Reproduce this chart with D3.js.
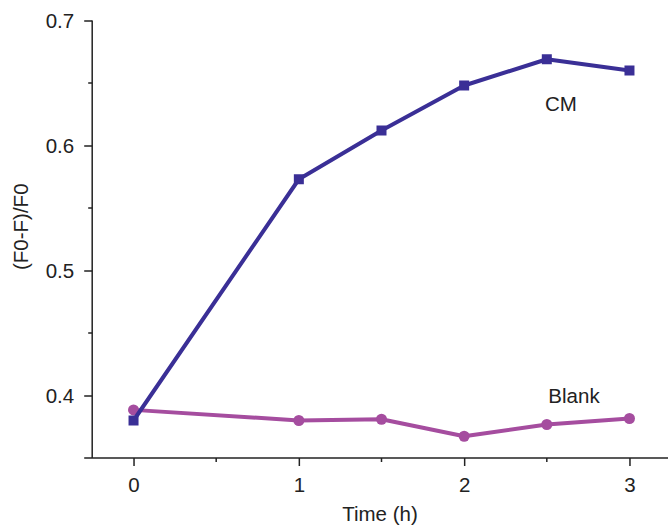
<!DOCTYPE html>
<html>
<head>
<meta charset="utf-8">
<script src="https://cdn.jsdelivr.net/npm/d3@7"></script>
<style>
  body { margin: 0; background: #fff; }
  svg text { font-family: "Liberation Sans", Arial, sans-serif; fill: #222; }
</style>
</head>
<body>
<div id="chart"></div>
<script>
const width = 668;
const height = 526;

// data
const times = [0, 1, 1.5, 2, 2.5, 3];
const cmValues = [0.380, 0.573, 0.612, 0.648, 0.669, 0.660];
const blankValues = [0.3885, 0.380, 0.381, 0.3674, 0.3768, 0.3816];
const xTicks = [0, 1, 2, 3];
const xMinorTicks = [0.5, 1.5, 2.5];
const yTicks = [0.4, 0.5, 0.6, 0.7];
const yMinorTicks = [0.45, 0.55, 0.65];

const cmColor = '#3a2f96';
const blankColor = '#a54d9f';
const axisColor = '#222';

const x = d3.scaleLinear().domain([-0.25, 3.25]).range([92.2, 670.8]);
const y = d3.scaleLinear().domain([0.35, 0.7]).range([458, 20.5]);

const svg = d3.select('#chart')
    .append('svg')
    .attr('width', width)
    .attr('height', height)
    .attr('viewBox', `0,0,${width},${height}`);

// y axis
const yAxis = svg.append('g')
    .attr('transform', `translate(${x(-0.25)},0)`)
    .call(d3.axisLeft(y).tickValues(yTicks).tickFormat(d3.format('.1f')).tickSize(8).tickPadding(10));
yAxis.select('.domain').attr('stroke', axisColor).attr('stroke-width', 1.5).attr('d', `M0,${y(0.35)}V${y(0.7)}`);
yAxis.selectAll('.tick line').attr('stroke', axisColor).attr('stroke-width', 1.5);
yAxis.selectAll('.tick text').style('font-size', '20.5px').attr('fill', '#222');
svg.append('g')
    .selectAll('line')
    .data(yMinorTicks)
    .join('line')
    .attr('x1', x(-0.25) - 4)
    .attr('x2', x(-0.25))
    .attr('y1', d => y(d))
    .attr('y2', d => y(d))
    .attr('stroke', axisColor)
    .attr('stroke-width', 1.5);

// x axis
const xAxis = svg.append('g')
    .attr('transform', `translate(0,${y(0.35)})`)
    .call(d3.axisBottom(x).tickValues(xTicks).tickFormat(d3.format('d')).tickSize(8).tickPadding(11));
xAxis.select('.domain').attr('stroke', axisColor).attr('stroke-width', 1.5).attr('d', `M${x(-0.25) - 8},0H${x(3.25)}`);
xAxis.selectAll('.tick line').attr('stroke', axisColor).attr('stroke-width', 1.5);
xAxis.selectAll('.tick text').style('font-size', '20.5px').attr('fill', '#222');
svg.append('g')
    .selectAll('line')
    .data(xMinorTicks)
    .join('line')
    .attr('x1', d => x(d))
    .attr('x2', d => x(d))
    .attr('y1', y(0.35))
    .attr('y2', y(0.35) + 4)
    .attr('stroke', axisColor)
    .attr('stroke-width', 1.5);

// axis titles
svg.append('text')
    .attr('x', 380)
    .attr('y', 521)
    .attr('text-anchor', 'middle')
    .style('font-size', '20.5px')
    .text('Time (h)');

svg.append('text')
    .attr('transform', `translate(28,${y(0.535)}) rotate(-90)`)
    .attr('text-anchor', 'middle')
    .style('font-size', '20.5px')
    .text('(F0-F)/F0');

const line = d3.line().x(d => x(d[0])).y(d => y(d[1]));

// Blank series
const blankData = times.map((t, i) => [t, blankValues[i]]);
svg.append('path')
    .datum(blankData)
    .attr('d', line)
    .attr('fill', 'none')
    .attr('stroke', blankColor)
    .attr('stroke-width', 4)
    .attr('stroke-linejoin', 'round');
svg.append('g')
    .selectAll('circle')
    .data(blankData)
    .join('circle')
    .attr('cx', d => x(d[0]))
    .attr('cy', d => y(d[1]))
    .attr('r', 5.5)
    .attr('fill', blankColor);

// CM series
const cmData = times.map((t, i) => [t, cmValues[i]]);
svg.append('path')
    .datum(cmData)
    .attr('d', line)
    .attr('fill', 'none')
    .attr('stroke', cmColor)
    .attr('stroke-width', 4)
    .attr('stroke-linejoin', 'round');
svg.append('g')
    .selectAll('rect')
    .data(cmData)
    .join('rect')
    .attr('x', d => x(d[0]) - 5)
    .attr('y', d => y(d[1]) - 5)
    .attr('width', 10)
    .attr('height', 10)
    .attr('fill', cmColor);

// series labels
svg.append('text')
    .attr('x', 561)
    .attr('y', y(0.6275))
    .attr('text-anchor', 'middle')
    .style('font-size', '20.5px')
    .text('CM');

svg.append('text')
    .attr('x', 574)
    .attr('y', y(0.394))
    .attr('text-anchor', 'middle')
    .style('font-size', '20.5px')
    .text('Blank');
</script>
</body>
</html>
